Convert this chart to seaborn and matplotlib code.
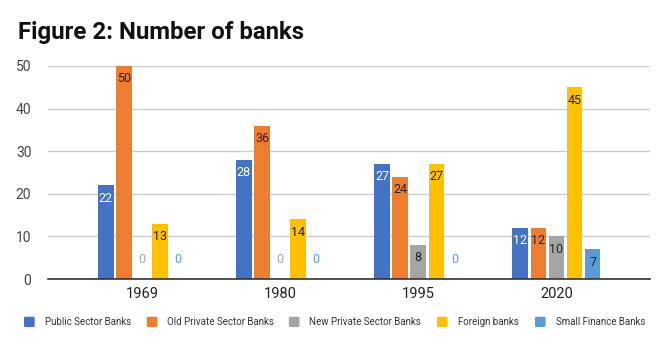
import matplotlib
matplotlib.use("Agg")
import matplotlib.pyplot as plt
import matplotlib.transforms as mtransforms
from matplotlib.patches import FancyBboxPatch
import seaborn as sns
import pandas as pd

years = ["1969", "1980", "1995", "2020"]
series = ["Public Sector Banks", "Old Private Sector Banks", "New Private Sector Banks",
          "Foreign banks", "Small Finance Banks"]
public_sector = [22, 28, 27, 12]
old_private = [50, 36, 24, 12]
new_private = [0, 0, 8, 10]
foreign = [13, 14, 27, 45]
small_finance = [0, 0, 0, 7]
colors = ["#4472C4", "#ED7D31", "#A5A5A5", "#FFC000", "#5B9BD5"]
label_colors = ["white", "#222222", "#222222", "#222222", "#222222"]

values = [public_sector, old_private, new_private, foreign, small_finance]
df = pd.DataFrame([
    {"year": y, "type": s, "count": v[i]}
    for s, v in zip(series, values) for i, y in enumerate(years)
])

sns.set_theme(style="white")
plt.rcParams["font.family"] = ["Roboto", "DejaVu Sans"]

fig = plt.figure(figsize=(6.67, 3.45), dpi=100)
ax = fig.add_axes([0.072, 0.191, 0.903, 0.618])

sns.barplot(data=df, x="year", y="count", hue="type", hue_order=series, order=years,
            palette=colors, width=0.655, gap=0.14, ax=ax, legend=False,
            saturation=1, linewidth=0)

ax.set_ylim(0, 50)
ax.set_xlim(-0.68, 3.68)
ax.set_yticks([0, 10, 20, 30, 40, 50])
ax.yaxis.grid(True, color="#cccccc", linewidth=1)
ax.set_axisbelow(True)
for side in ["top", "right", "left"]:
    ax.spines[side].set_visible(False)
ax.spines["bottom"].set_color("#333333")
ax.spines["bottom"].set_linewidth(1.2)
ax.set_xlabel("")
ax.set_ylabel("")
ax.tick_params(axis="y", length=0, labelsize=10, labelcolor="#444444", pad=12)
ax.tick_params(axis="x", length=0, labelsize=10.5, labelcolor="#222222", pad=6)

# value labels: inside the bar top, or just above the baseline for empty bars
for k, cont in enumerate(ax.containers):
    for i, bar in enumerate(cont.patches):
        v = values[k][i]
        xc = bar.get_x() + bar.get_width() / 2
        if v == 0:
            off = mtransforms.offset_copy(ax.transData, fig=fig, x=0, y=20, units="dots")
            ax.text(xc, 0, "0", transform=off, ha="center", va="center",
                    fontsize=9, color=colors[k])
        else:
            off = mtransforms.offset_copy(ax.transData, fig=fig, x=0, y=-13, units="dots")
            ax.text(xc, v, str(v), transform=off, ha="center", va="center",
                    fontsize=9, color=label_colors[k])

fig.text(0.027, 0.905, "Figure 2: Number of banks", fontsize=17.3, fontweight="bold",
         color="#111111", ha="left", va="center")

# legend along the bottom
leg_x = [0.036, 0.220, 0.433, 0.655, 0.802]
for k, name in enumerate(series):
    fig.patches.append(FancyBboxPatch((leg_x[k], 0.052), 0.016, 0.03,
                                      boxstyle="round,pad=0,rounding_size=0.003",
                                      transform=fig.transFigure, facecolor=colors[k],
                                      edgecolor="none"))
    fig.text(leg_x[k] + 0.031, 0.067, name, fontsize=7, color="#333333",
             ha="left", va="center")

fig.savefig("out.png", dpi=100)
